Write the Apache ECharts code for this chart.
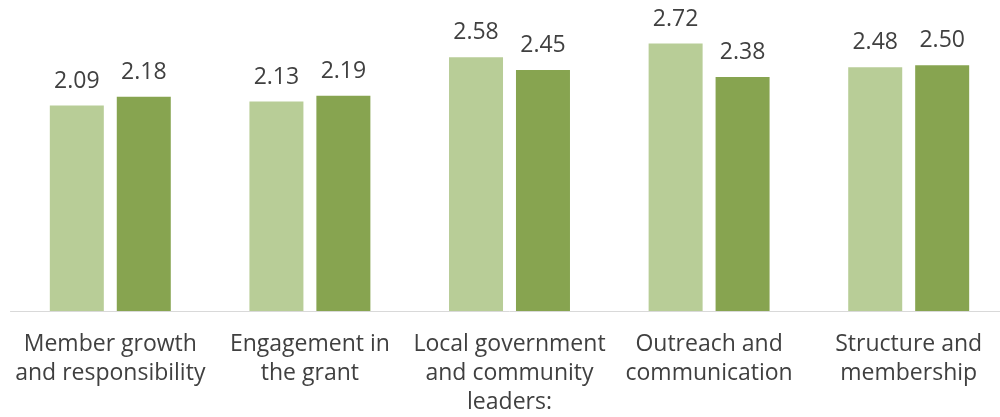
<!DOCTYPE html>
<html>
<head>
<meta charset="utf-8">
<script src="https://cdn.jsdelivr.net/npm/echarts@6/dist/echarts.min.js"></script>
<style>
html,body{margin:0;padding:0;background:#fff;overflow:hidden;}
#chart{width:1010px;height:417px;}
</style>
</head>
<body>
<div id="chart"></div>
<script>
const categories = [
  "Member growth\nand responsibility",
  "Engagement in\nthe grant",
  "Local government\nand community\nleaders:",
  "Outreach and\ncommunication",
  "Structure and\nmembership"
];
const seriesA = [2.09, 2.13, 2.58, 2.72, 2.48];
const seriesB = [2.18, 2.19, 2.45, 2.38, 2.50];

const FONT = "Open Sans";
const chart = echarts.init(document.getElementById('chart'), null, {renderer: 'canvas'});
const labelStyle = {
  show: true,
  position: 'top',
  distance: 13,
  fontFamily: FONT,
  fontSize: 23,
  lineHeight: 23,
  color: '#404040',
  formatter: p => p.value.toFixed(2)
};
chart.setOption({
  animation: false,
  grid: {left: 10.5, right: 1.5, top: 16, bottom: 104, containLabel: false},
  xAxis: {
    type: 'category',
    data: categories,
    axisLine: {show: true, lineStyle: {color: '#d9d9d9', width: 1}},
    axisTick: {show: false},
    axisLabel: {
      interval: 0,
      margin: 19,
      fontFamily: FONT,
      fontSize: 23,
      lineHeight: 29,
      color: '#404040',
      verticalAlign: 'top'
    }
  },
  yAxis: {
    type: 'value',
    min: 0, max: 3,
    show: false,
    splitLine: {show: false}
  },
  series: [
    {type: 'bar', data: seriesA, barWidth: 54, barGap: '24%', itemStyle: {color: '#b8cd97'}, label: labelStyle},
    {type: 'bar', data: seriesB, barWidth: 54, barGap: '24%', itemStyle: {color: '#87a450'}, label: labelStyle}
  ]
});
</script>
</body>
</html>
